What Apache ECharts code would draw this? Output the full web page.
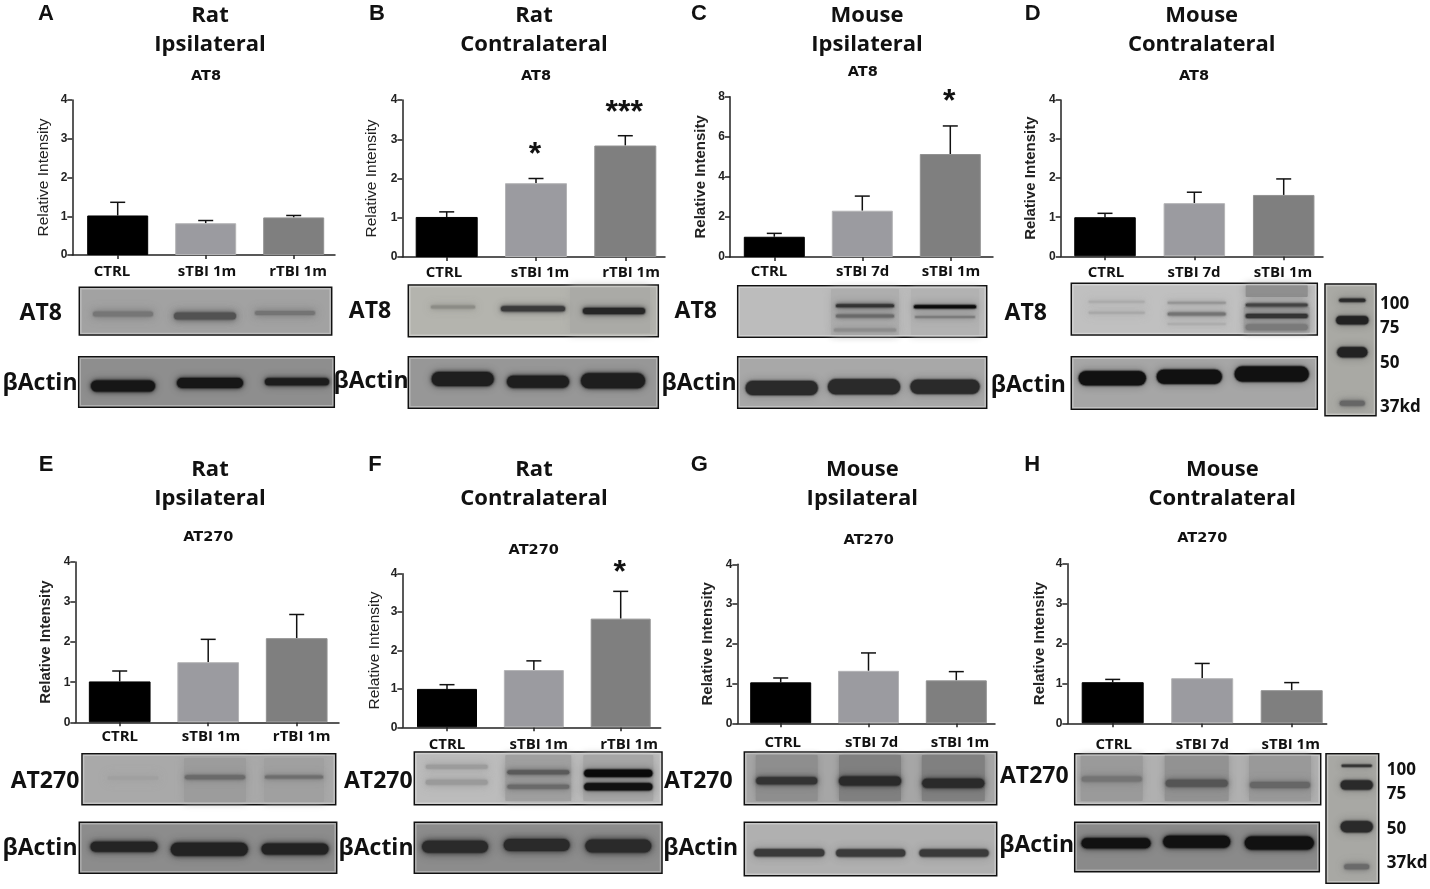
<!DOCTYPE html>
<html>
<head>
<meta charset="utf-8">
<title>AT8 AT270</title>
<script src="https://cdn.jsdelivr.net/npm/echarts@6/dist/echarts.min.js"></script>
<style>
html, body { margin: 0; padding: 0; background: #fff; }
#main { width: 1430px; height: 889px; }
</style>
</head>
<body>
<div id="main"></div>
<script>
// groups
var catsRat = ['CTRL', 'sTBI 1m', 'rTBI 1m'];
var catsMouse = ['CTRL', 'sTBI 7d', 'sTBI 1m'];

// bar means and error bars
var meanA = [1.02, 0.82, 0.97];
var semA = [0.34, 0.07, 0.05];
var meanB = [1.02, 1.88, 2.84];
var semB = [0.13, 0.12, 0.25];
var meanC = [1.01, 2.31, 5.14];
var semC = [0.17, 0.73, 1.40];
var meanD = [1.00, 1.36, 1.57];
var semD = [0.10, 0.28, 0.41];
var meanE = [1.02, 1.50, 2.10];
var semE = [0.26, 0.57, 0.59];
var meanF = [1.00, 1.49, 2.83];
var semF = [0.11, 0.24, 0.71];
var meanG = [1.03, 1.32, 1.08];
var semG = [0.11, 0.45, 0.22];
var meanH = [1.03, 1.13, 0.83];
var semH = [0.07, 0.37, 0.19];

var barColors = ['#000000', '#9b9ba0', '#7f7f7f'];
var barBorders = ['#000000', '#b4b4b6', '#929292'];

// layout of the eight panels
var panels = [
    { letter: 'A', letterX: 46, letterY: 14, species: 'Rat', side: 'Ipsilateral', headX: 210, headY: 14, marker: 'AT8', markerX: 206, markerY: 76,
      l: 72.3, r: 335, t: 100, b: 255, c: [117.7, 205.7, 293.7], barW: 61, labelX: [112, 207, 298], labelY: 271, nameX: 44, nameBold: false,
      max: 4, step: 1, cats: catsRat, mean: meanA, sem: semA, stars: ['', '', ''], starGap: 0 },
    { letter: 'B', letterX: 377, letterY: 14, species: 'Rat', side: 'Contralateral', headX: 534, headY: 14, marker: 'AT8', markerX: 536, markerY: 76,
      l: 402.3, r: 665, t: 100, b: 257, c: [446.7, 536, 625.3], barW: 62, labelX: [444, 540, 631], labelY: 272, nameX: 372, nameBold: false,
      max: 4, step: 1, cats: catsRat, mean: meanB, sem: semB, stars: ['', '*', '***'], starGap: 23 },
    { letter: 'C', letterX: 699, letterY: 14, species: 'Mouse', side: 'Ipsilateral', headX: 867, headY: 14, marker: 'AT8', markerX: 862.7, markerY: 72.7,
      l: 730, r: 993, t: 96.7, b: 257, c: [774.3, 862.3, 950.3], barW: 61, labelX: [769, 862.7, 951], labelY: 271, nameX: 700, nameBold: true,
      max: 8, step: 2, cats: catsMouse, mean: meanC, sem: semC, stars: ['', '', '*'], starGap: 24 },
    { letter: 'D', letterX: 1032.7, letterY: 14, species: 'Mouse', side: 'Contralateral', headX: 1201.7, headY: 14, marker: 'AT8', markerX: 1194, markerY: 76,
      l: 1060.7, r: 1323, t: 100, b: 256.3, c: [1105, 1194, 1283.7], barW: 61.5, labelX: [1106, 1194, 1283], labelY: 272.3, nameX: 1030, nameBold: true,
      max: 4, step: 1, cats: catsMouse, mean: meanD, sem: semD, stars: ['', '', ''], starGap: 0 },
    { letter: 'E', letterX: 46, letterY: 464.7, species: 'Rat', side: 'Ipsilateral', headX: 210, headY: 468.7, marker: 'AT270', markerX: 208.3, markerY: 537.3,
      l: 75.3, r: 339, t: 562, b: 722.3, c: [119.7, 208.3, 296.7], barW: 61.7, labelX: [119.7, 211, 301.7], labelY: 736, nameX: 45.7, nameBold: true,
      max: 4, step: 1, cats: catsRat, mean: meanE, sem: semE, stars: ['', '', ''], starGap: 0 },
    { letter: 'F', letterX: 375, letterY: 464.7, species: 'Rat', side: 'Contralateral', headX: 534, headY: 468.7, marker: 'AT270', markerX: 533.7, markerY: 550,
      l: 402.3, r: 660.7, t: 573.7, b: 727.3, c: [447, 533.7, 620.7], barW: 60, labelX: [447, 538.7, 629], labelY: 744.7, nameX: 375, nameBold: false,
      max: 4, step: 1, cats: catsRat, mean: meanF, sem: semF, stars: ['', '', '*'], starGap: 18 },
    { letter: 'G', letterX: 699.3, letterY: 464.7, species: 'Mouse', side: 'Ipsilateral', headX: 862.3, headY: 468.7, marker: 'AT270', markerX: 868.7, markerY: 540,
      l: 737.3, r: 995, t: 564.3, b: 723.3, c: [780.7, 868.7, 956.3], barW: 61, labelX: [782.7, 871.7, 960], labelY: 742.7, nameX: 707, nameBold: true,
      max: 4, step: 1, cats: catsMouse, mean: meanG, sem: semG, stars: ['', '', ''], starGap: 0 },
    { letter: 'H', letterX: 1032.3, letterY: 464.7, species: 'Mouse', side: 'Contralateral', headX: 1222.3, headY: 468.7, marker: 'AT270', markerX: 1202.3, markerY: 538.7,
      l: 1067.3, r: 1326.7, t: 563.7, b: 723.3, c: [1112.7, 1202.3, 1291.7], barW: 62, labelX: [1113.7, 1202.3, 1290.7], labelY: 744.7, nameX: 1039, nameBold: true,
      max: 4, step: 1, cats: catsMouse, mean: meanH, sem: semH, stars: ['', '', ''], starGap: 0 }
];

// blot pictures: box [x0, y0, x1, y1], background, smears and bands [cx, cy, w, h, colour, blur]
var blots = [
    { box: [79.3, 287.3, 331.7, 335], bg: '#a2a2a2', smears: [], bands: [[123, 314, 60, 5, '#767676', 6], [205, 316, 62, 7, '#525252', 6], [285, 313, 60, 4, '#747474', 6]] },
    { box: [78.7, 356.7, 334.3, 407.3], bg: '#8e8e8e', smears: [], bands: [[123, 386, 64, 11, '#161616', 4], [210, 383, 66, 10, '#161616', 4], [297, 381.7, 64, 7, '#1c1c1c', 4]] },
    { box: [408.3, 285, 658.3, 336.7], bg: '#b4b4ae', smears: [[610, 310, 80, 46, '#aaaaa6', 10]], bands: [[453, 307, 44, 3, '#8c8c86', 5], [533, 308.7, 64, 5, '#3a3a3a', 4], [614, 311, 62, 6, '#262626', 4]] },
    { box: [408.3, 356.7, 658.3, 408.3], bg: '#979797', smears: [], bands: [[462.7, 379, 62, 14, '#1e1e1e', 4], [538, 381.7, 62, 12, '#1e1e1e', 4], [613, 380.7, 64, 15, '#1e1e1e', 4]] },
    { box: [737.7, 285.7, 986.7, 337.3], bg: '#bcbcbc', smears: [[865, 312, 68, 46, '#aeaeae', 8], [945, 312, 68, 46, '#b2b2b2', 8]], bands: [[865, 305.7, 58, 3, '#333333', 4], [865, 316, 58, 3, '#6a6a6a', 4], [865, 330, 62, 3, '#8c8c8c', 5], [945, 306.7, 62, 3, '#0c0c0c', 3], [945, 317, 60, 2, '#7c7c7c', 4]] },
    { box: [737.7, 356.7, 986.7, 408.3], bg: '#a8a8a8', smears: [], bands: [[781.7, 388, 72, 14, '#2a2a2a', 3], [864, 386.7, 72, 15, '#2a2a2a', 3], [945, 386.7, 69, 14, '#2a2a2a', 3]] },
    { box: [1071.3, 283.3, 1317.3, 335], bg: '#c0c0c0', smears: [[1276.7, 291, 62, 12, '#8f8f8f', 8], [1276.7, 320, 66, 26, '#a6a6a6', 6]], bands: [[1116.7, 301.7, 56, 2, '#acacac', 5], [1116.7, 312.7, 56, 2, '#a8a8a8', 5], [1196.7, 302.7, 58, 2, '#969696', 4], [1196.7, 314, 58, 3, '#747474', 4], [1196.7, 324, 58, 2, '#adadad', 5], [1276.7, 305, 62, 3, '#444444', 4], [1276.7, 316, 62, 4, '#333333', 3], [1276.7, 327.3, 62, 6, '#7a7a7a', 5]] },
    { box: [1071.3, 356.7, 1317.3, 409.3], bg: '#a6a6a6', smears: [], bands: [[1112.3, 378.3, 67, 14, '#111111', 3], [1189.3, 376.7, 65, 14, '#111111', 3], [1271.7, 374, 74, 15, '#111111', 3]] },
    { box: [1325, 284, 1376, 415.7], bg: '#a9a9a4', smears: [], bands: [[1352.3, 300.3, 26, 3, '#2a2a2a', 3], [1352.3, 320.3, 32, 8, '#222222', 3], [1352.3, 352.3, 30, 10, '#222222', 3], [1352.3, 403.3, 25, 5, '#666666', 5]] },
    { box: [82, 753.7, 335.7, 804.7], bg: '#a9a9a9', smears: [[215, 780, 62, 44, '#9c9c9c', 8], [294, 780, 60, 44, '#a0a0a0', 8]], bands: [[133, 778, 50, 3, '#a0a0a0', 6], [215, 777.3, 60, 4, '#6a6a6a', 4], [294, 777, 58, 3, '#6e6e6e', 4]] },
    { box: [79.3, 822.3, 336.7, 873.3], bg: '#8c8c8c', smears: [], bands: [[124, 846.7, 67, 10, '#242424', 5], [209.3, 849.3, 77, 13, '#222222', 5], [295, 849, 67, 11, '#222222', 5]] },
    { box: [414.3, 752, 662, 804.7], bg: '#bcbcbc', smears: [[538.3, 778, 66, 46, '#a0a0a0', 8], [618.3, 778, 70, 46, '#a6a6a6', 8]], bands: [[456.7, 766.7, 62, 4, '#9c9c9c', 6], [456.7, 782.3, 62, 5, '#9a9a9a', 6], [538.3, 772.3, 62, 4, '#5a5a5a', 5], [538.3, 786.7, 62, 4, '#6a6a6a', 5], [618.3, 773.3, 68, 7, '#0a0a0a', 3], [618.3, 786.7, 68, 7, '#111111', 3]] },
    { box: [414.3, 822.3, 662, 873.3], bg: '#8c8c8c', smears: [], bands: [[455, 846.7, 66, 12, '#2a2a2a', 6], [536.7, 845, 66, 12, '#2a2a2a', 6], [618.3, 846, 66, 13, '#2a2a2a', 6]] },
    { box: [744.3, 752, 996.7, 804.7], bg: '#a6a6a6', smears: [[786.7, 778, 62, 46, '#8e8e8e', 6], [870, 778, 62, 46, '#808080', 6], [953.3, 778, 63, 46, '#808080', 6]], bands: [[786.7, 780.7, 61, 7, '#333333', 4], [870, 781, 62, 9, '#2a2a2a', 4], [953.3, 783.3, 62, 9, '#2a2a2a', 4]] },
    { box: [744.3, 822.3, 996.7, 875.7], bg: '#b0b0b0', smears: [], bands: [[789.3, 852.7, 70, 7, '#3a3a3a', 3], [870.7, 853, 69, 7, '#3a3a3a', 3], [954, 853, 69, 7, '#3a3a3a', 3]] },
    { box: [1074.7, 753.7, 1320.7, 804.7], bg: '#b0b0b0', smears: [[1111.7, 778, 62, 46, '#9a9a9a', 7], [1196.7, 778, 64, 46, '#929292', 7], [1280, 778, 62, 46, '#999999', 7]], bands: [[1111.7, 779, 60, 5, '#747474', 5], [1196.7, 783.3, 62, 7, '#555555', 5], [1280, 785, 60, 6, '#666666', 5]] },
    { box: [1074.7, 822.3, 1319.3, 871.7], bg: '#8a8a8a', smears: [], bands: [[1116, 843.3, 69, 10, '#111111', 4], [1196.7, 841.7, 67, 12, '#111111', 4], [1279.3, 843, 69, 13, '#111111', 4]] },
    { box: [1326, 753.7, 1378.7, 883.3], bg: '#a8a8a4', smears: [], bands: [[1356.7, 765.7, 30, 2, '#333333', 2], [1356.7, 785, 32, 9, '#2a2a2a', 3], [1356.7, 826.7, 32, 11, '#2a2a2a', 3], [1356.7, 866.7, 25, 5, '#6a6a6a', 5]] }
];

// names beside the blots, and the ladder sizes
var blotLabels = [
    ['AT8', 40.7, 313], ['βActin', 40, 383], ['AT8', 370, 311], ['βActin', 371, 381.7],
    ['AT8', 695.7, 311], ['βActin', 699, 383], ['AT8', 1025.7, 313], ['βActin', 1028.3, 385],
    ['AT270', 45, 781.7], ['βActin', 40, 848.3], ['AT270', 378.3, 781.7], ['βActin', 376, 848.3],
    ['AT270', 698.3, 781.7], ['βActin', 700.7, 848.3], ['AT270', 1034.3, 776.7], ['βActin', 1036.7, 845]
];
var ladderLabels = [
    ['100', 1380, 303.7], ['75', 1380, 328.3], ['50', 1380, 363.3], ['37kd', 1380, 407.3],
    ['100', 1386.7, 770], ['75', 1386.7, 794.3], ['50', 1386.7, 829], ['37kd', 1386.7, 863.3]
];

var grids = [], xAxes = [], yAxes = [], seriesList = [], graphics = [];

function addText(text, x, y, font, align) {
    graphics.push({
        type: 'text',
        x: x,
        y: y,
        silent: true,
        style: { text: text, font: font, fill: '#111', textAlign: align || 'center', textVerticalAlign: 'middle' }
    });
}

function addSmear(b) {
    graphics.push({
        type: 'rect',
        silent: true,
        shape: { x: b[0] - b[2] / 2, y: b[1] - b[3] / 2, width: b[2], height: b[3], r: 1 },
        style: { fill: b[4], shadowBlur: b[5], shadowColor: b[4] }
    });
}

function addBand(b) {
    // soft halo first, then the dark core
    graphics.push({
        type: 'rect',
        silent: true,
        shape: { x: b[0] - b[2] / 2 - 1, y: b[1] - b[3] / 2 - 1, width: b[2] + 2, height: b[3] + 2, r: b[3] / 2 + 1 },
        style: { fill: b[4], opacity: 0.3, shadowBlur: b[5] + 5, shadowColor: b[4] }
    });
    graphics.push({
        type: 'rect',
        silent: true,
        shape: { x: b[0] - b[2] / 2, y: b[1] - b[3] / 2, width: b[2], height: b[3], r: b[3] / 2 },
        style: { fill: b[4], shadowBlur: b[5], shadowColor: b[4] }
    });
}

panels.forEach(function (p, i) {
    var band = (p.c[2] - p.c[0]) / 2;
    var xPos = [1, 2, 3];
    var labelPos = p.labelX.map(function (px) { return 1 + (px - p.c[0]) / band; });

    grids.push({ left: p.l, top: p.t, width: p.r - p.l, height: p.b - p.t });

    xAxes.push({
        type: 'value',
        gridIndex: i,
        min: 1 - (p.c[0] - p.l) / band,
        max: 3 + (p.r - p.c[2]) / band,
        splitLine: { show: false },
        axisLine: { lineStyle: { color: '#222', width: 1.5 } },
        axisTick: { customValues: xPos, length: 4, lineStyle: { color: '#222', width: 1.5 } },
        axisLabel: {
            customValues: labelPos,
            margin: p.labelY - p.b - 7,
            color: '#111',
            fontFamily: 'Open Sans',
            fontWeight: 'bold',
            fontSize: 15,
            formatter: function (v) {
                return p.cats[labelPos.indexOf(v)];
            }
        }
    });

    yAxes.push({
        type: 'value',
        gridIndex: i,
        min: 0,
        max: p.max,
        interval: p.step,
        name: 'Relative Intensity',
        nameLocation: 'middle',
        nameGap: p.l - p.nameX - 8,
        nameTextStyle: {
            color: '#222',
            fontFamily: 'Liberation Sans',
            fontSize: p.nameBold ? 15 : 15.5,
            fontWeight: p.nameBold ? 'bold' : 'normal'
        },
        splitLine: { show: false },
        axisLine: { show: true, lineStyle: { color: '#222', width: 1.5 } },
        axisTick: { show: true, length: 5, lineStyle: { color: '#222', width: 1.5 } },
        axisLabel: { margin: 5, color: '#222', fontFamily: 'Liberation Sans', fontWeight: 'bold', fontSize: 12 }
    });

    seriesList.push({
        type: 'bar',
        xAxisIndex: i,
        yAxisIndex: i,
        barWidth: p.barW,
        silent: true,
        data: p.mean.map(function (v, k) {
            return {
                value: [xPos[k], v],
                itemStyle: { color: barColors[k], borderColor: barBorders[k], borderWidth: 1 }
            };
        })
    });

    seriesList.push({
        type: 'custom',
        xAxisIndex: i,
        yAxisIndex: i,
        silent: true,
        clip: false,
        z: 1,
        data: p.mean.map(function (v, k) { return [xPos[k], v, v + p.sem[k], k]; }),
        renderItem: function (params, api) {
            var low = api.coord([api.value(0), api.value(1)]);
            var high = api.coord([api.value(0), api.value(2)]);
            var star = p.stars[api.value(3)];
            var line = { stroke: '#111', lineWidth: 1.5, fill: null };
            var parts = [
                { type: 'line', shape: { x1: low[0], y1: low[1], x2: high[0], y2: high[1] }, style: line },
                { type: 'line', shape: { x1: high[0] - 7.5, y1: high[1], x2: high[0] + 7.5, y2: high[1] }, style: line }
            ];
            if (star) {
                parts.push({
                    type: 'text',
                    x: high[0] - 1,
                    y: high[1] - p.starGap,
                    style: { text: star, font: 'bold 32px "Liberation Sans"', fill: '#111', textAlign: 'center', textVerticalAlign: 'middle' }
                });
            }
            return { type: 'group', children: parts };
        }
    });

    addText(p.letter, p.letterX, p.letterY, 'bold 22px "Liberation Sans"');
    addText(p.species, p.headX, p.headY + 1.5, 'bold 22px "Open Sans"');
    addText(p.side, p.headX, p.headY + 30.5, 'bold 22px "Open Sans"');
    addText(p.marker, p.markerX, p.markerY, 'bold 14.5px "DejaVu Sans"');
});

blots.forEach(function (b) {
    graphics.push({
        type: 'rect',
        silent: true,
        shape: { x: b.box[0], y: b.box[1], width: b.box[2] - b.box[0], height: b.box[3] - b.box[1] },
        style: { fill: b.bg, stroke: '#111', lineWidth: 1.5 }
    });
    b.smears.forEach(addSmear);
    b.bands.forEach(addBand);
    // the picture edge is a bit lighter just inside the frame
    graphics.push({
        type: 'rect',
        silent: true,
        shape: { x: b.box[0] + 1.5, y: b.box[1] + 1.5, width: b.box[2] - b.box[0] - 3, height: b.box[3] - b.box[1] - 3 },
        style: { fill: null, stroke: 'rgba(255,255,255,0.3)', lineWidth: 1.5 }
    });
});

blotLabels.forEach(function (t) {
    addText(t[0], t[1], t[2], 'bold 23px "Open Sans"');
});
ladderLabels.forEach(function (t) {
    addText(t[0], t[1], t[2], 'bold 17px "Open Sans"', 'left');
});

var myChart = echarts.init(document.getElementById('main'));

var option = {
    animation: false,
    backgroundColor: '#fff',
    grid: grids,
    xAxis: xAxes,
    yAxis: yAxes,
    series: seriesList,
    graphic: graphics
};

myChart.setOption(option);

window.addEventListener('resize', function () {
    myChart.resize();
});
</script>
</body>
</html>
